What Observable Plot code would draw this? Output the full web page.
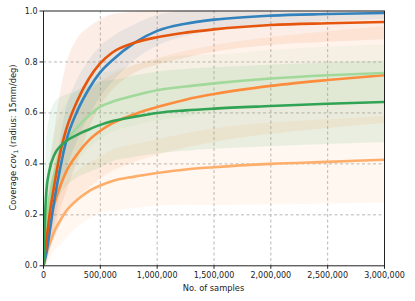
<!DOCTYPE html>
<html><head><meta charset="utf-8">
<script src="https://cdn.jsdelivr.net/npm/d3@7"></script>
<script src="https://cdn.jsdelivr.net/npm/@observablehq/plot@0.6"></script>
<style>
body{margin:0;background:#fff;}
svg{display:block;}
</style>
</head><body><div id="chart"></div>
<script>
// x positions (no. of samples)
const samples = [0,10000,25000,50000,100000,150000,200000,300000,400000,500000,600000,800000,1000000,1250000,1500000,2000000,2500000,3000000];

const seriesNames = ["S1","S2","S3","S4","S5","S6"];
const seriesColors = ["#3182bd","#e6550d","#a1d99b","#fd8d3c","#31a354","#fdae6b"];

// mean coverage per series
const s1Mean = [0,0.02,0.05,0.12,0.27,0.39,0.49,0.61,0.695,0.76,0.805,0.875,0.922,0.95,0.966,0.982,0.988,0.992];
const s2Mean = [0,0.04,0.10,0.19,0.33,0.45,0.535,0.65,0.735,0.795,0.835,0.875,0.897,0.915,0.928,0.945,0.952,0.957];
const s3Mean = [0,0.08,0.17,0.26,0.37,0.44,0.485,0.545,0.59,0.625,0.643,0.668,0.689,0.704,0.716,0.735,0.748,0.757];
const s4Mean = [0,0.04,0.09,0.16,0.25,0.316,0.37,0.44,0.493,0.53,0.558,0.595,0.623,0.652,0.674,0.706,0.729,0.748];
const s5Mean = [0,0.15,0.29,0.37,0.44,0.47,0.49,0.515,0.535,0.553,0.567,0.585,0.60,0.61,0.617,0.627,0.636,0.643];
const s6Mean = [0,0.02,0.05,0.08,0.14,0.18,0.215,0.26,0.293,0.315,0.332,0.35,0.364,0.378,0.387,0.40,0.408,0.416];

// spread (half band width) per series
const s1Sd = [0,0.02,0.04,0.07,0.10,0.11,0.12,0.12,0.11,0.10,0.09,0.07,0.06,0.05,0.045,0.035,0.03,0.025];
const s2Sd = [0,0.05,0.10,0.15,0.20,0.23,0.25,0.24,0.20,0.17,0.15,0.12,0.11,0.10,0.09,0.08,0.075,0.07];
const s3Sd = [0,0.06,0.10,0.13,0.15,0.15,0.15,0.14,0.13,0.13,0.12,0.12,0.12,0.12,0.11,0.11,0.11,0.11];
const s4Sd = [0,0.04,0.07,0.10,0.14,0.16,0.17,0.18,0.19,0.19,0.19,0.19,0.19,0.19,0.19,0.19,0.19,0.19];
const s5Sd = [0,0.12,0.18,0.20,0.20,0.19,0.18,0.17,0.17,0.17,0.16,0.16,0.16,0.16,0.16,0.16,0.16,0.16];
const s6Sd = [0,0.02,0.04,0.06,0.08,0.10,0.11,0.11,0.11,0.11,0.12,0.125,0.13,0.14,0.15,0.16,0.165,0.17];

const xTicks = [0,500000,1000000,1500000,2000000,2500000,3000000];
const yTicks = [0,0.2,0.4,0.6,0.8,1.0];

const means = [s1Mean, s2Mean, s3Mean, s4Mean, s5Mean, s6Mean];
const sds = [s1Sd, s2Sd, s3Sd, s4Sd, s5Sd, s6Sd];

const rows = [];
seriesNames.forEach((s, k) => {
  samples.forEach((x, i) => {
    rows.push({series: s, x, y: means[k][i], lo: means[k][i] - sds[k][i], hi: means[k][i] + sds[k][i]});
  });
});
const drawOrder = ["S6","S4","S3","S1","S2","S5"];

const marks = [
  Plot.gridX(xTicks.slice(1, -1), {stroke: "#b0b0b0", strokeOpacity: 1, strokeDasharray: "3,2.5", strokeWidth: 0.9}),
  Plot.gridY(yTicks.slice(1, -1), {stroke: "#b0b0b0", strokeOpacity: 1, strokeDasharray: "3,2.5", strokeWidth: 0.9}),
];
for (const s of drawOrder) {
  marks.push(Plot.areaY(rows.filter(d => d.series === s), {x: "x", y1: "lo", y2: "hi", fill: "series", fillOpacity: 0.1, curve: "monotone-x", clip: true}));
}
for (const s of drawOrder) {
  marks.push(Plot.lineY(rows.filter(d => d.series === s), {x: "x", y: "y", stroke: "series", strokeWidth: 2.6, curve: "monotone-x", clip: true}));
}
marks.push(Plot.frame({stroke: "#222", strokeWidth: 1}));
marks.push(Plot.axisX({ticks: xTicks, tickFormat: d3.format(","), tickSize: 3.5, tickPadding: 3, label: null, stroke: "#222"}));
marks.push(Plot.axisY({ticks: yTicks, tickFormat: d3.format(".1f"), tickSize: 3.5, tickPadding: 2.5, label: null, stroke: "#222"}));

const chart = Plot.plot({
  width: 415,
  height: 301,
  marginLeft: 43,
  marginRight: 31,
  marginTop: 10.5,
  marginBottom: 35.7,
  style: {fontFamily: "DejaVu Sans", fontSize: "8px", color: "#222", background: "#fff"},
  x: {domain: [0, 3000000]},
  y: {domain: [0, 1]},
  color: {domain: seriesNames, range: seriesColors},
  marks
});

const svg = d3.select(chart);
svg.append("text")
  .attr("x", 213.5).attr("y", 291)
  .attr("text-anchor", "middle")
  .attr("font-family", "DejaVu Sans").attr("font-size", 8.3).attr("fill", "#222")
  .text("No. of samples");
const yl = svg.append("text")
  .attr("transform", "translate(15.5,137.5) rotate(-90)")
  .attr("text-anchor", "middle")
  .attr("font-family", "DejaVu Sans").attr("font-size", 8.3).attr("fill", "#222");
yl.append("tspan").text("Coverage ");
yl.append("tspan").attr("font-style", "italic").text("cov");
yl.append("tspan").attr("font-size", 6).attr("dy", 2).text("1");
yl.append("tspan").attr("dy", -2).text(" (radius: 15mm/deg)");

document.getElementById("chart").appendChild(chart);
</script></body></html>
